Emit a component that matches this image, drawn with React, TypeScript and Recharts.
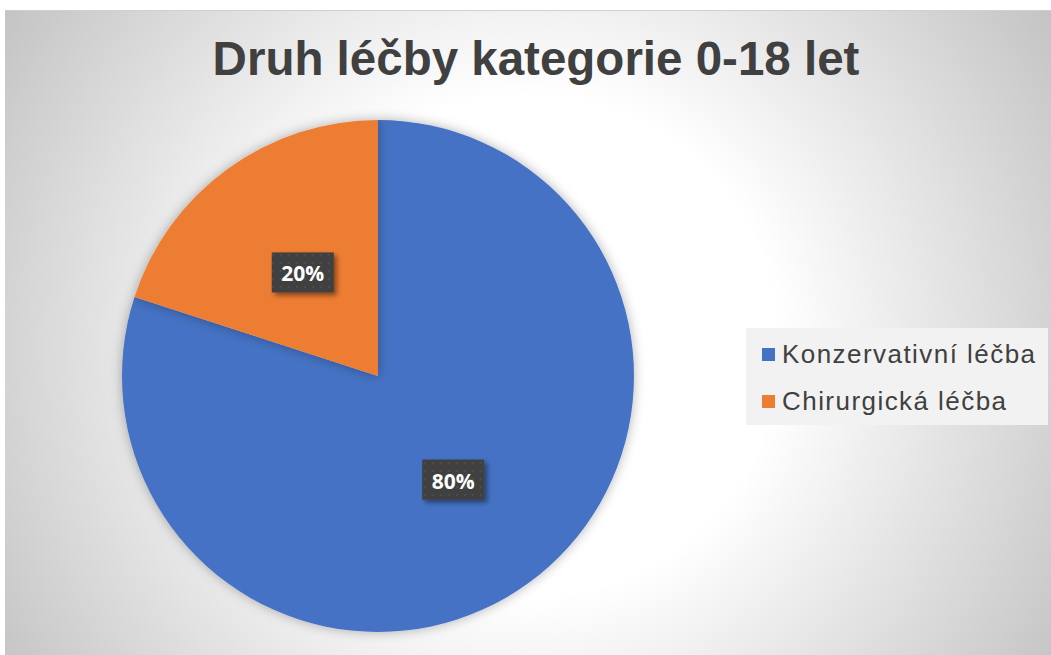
import { Cell, Legend, Pie, PieChart } from "recharts"

const categories = ["Konzervativní léčba", "Chirurgická léčba"]
const shares = [80, 20]
const colors = ["#4472c4", "#ed7d31"]

const data = categories.map((name, i) => ({ name, value: shares[i], color: colors[i] }))

const RADIAN = Math.PI / 180

const renderLabel = (props: any) => {
  const { cx, cy, midAngle, outerRadius, percent } = props
  const r = outerRadius * 0.5
  const x = cx + r * Math.cos(-midAngle * RADIAN)
  const y = cy + r * Math.sin(-midAngle * RADIAN)
  return (
    <g>
      <rect x={x - 31} y={y - 20} width={62} height={40} fill="url(#dots)" filter="url(#boxShadow)" />
      <text
        x={x}
        y={y + 1}
        textAnchor="middle"
        dominantBaseline="central"
        fill="#ffffff"
        fontFamily="'Open Sans', sans-serif"
        fontWeight={700}
        fontSize={21}
      >
        {`${Math.round(percent * 100)}%`}
      </text>
    </g>
  )
}

const LegendBox = () => (
  <div
    style={{
      background: "#f2f2f2",
      width: 302,
      height: 97,
      boxSizing: "border-box",
      paddingLeft: 16,
      paddingTop: 3,
      fontFamily: "'Liberation Sans', Arial, sans-serif",
      fontSize: 26,
      letterSpacing: 1.45,
      color: "#404040",
    }}
  >
    {data.map((d) => (
      <div key={d.name} style={{ display: "flex", alignItems: "center", height: 47 }}>
        <span style={{ width: 13, height: 13, background: d.color, marginRight: 7, display: "inline-block" }} />
        <span>{d.name}</span>
      </div>
    ))}
  </div>
)

export default function App() {
  return (
    <div
      style={{
        position: "absolute",
        left: 5,
        top: 10,
        width: 1046,
        height: 645,
        background: "radial-gradient(circle at 50% 52%, #ffffff 0px, #ffffff 250px, #c4c4c4 620px)",
        borderTop: "1px solid #d0d0d0",
        overflow: "hidden",
      }}
    >
      <svg width={0} height={0} style={{ position: "absolute" }}>
        <defs>
          <pattern id="dots" width={8} height={8} patternUnits="userSpaceOnUse">
            <rect width={8} height={8} fill="#404040" />
            <rect x={3} y={3} width={2} height={2} fill="#4c4c4c" />
          </pattern>
          <filter id="boxShadow" x="-30%" y="-30%" width="170%" height="180%">
            <feDropShadow dx={3} dy={3} stdDeviation={2.5} floodColor="#000" floodOpacity={0.45} />
          </filter>
          <filter id="pieShadow" x="-20%" y="-20%" width="140%" height="140%">
            <feDropShadow dx={0} dy={0} stdDeviation={6} floodColor="#000" floodOpacity={0.3} />
          </filter>
        </defs>
      </svg>
      <div
        style={{
          position: "absolute",
          left: 0,
          top: 20,
          width: 1062,
          textAlign: "center",
          fontFamily: "'Liberation Sans', Arial, sans-serif",
          fontWeight: 700,
          fontSize: 47.5,
          color: "#404040",
          lineHeight: "56px",
        }}
      >
        Druh léčby kategorie 0-18 let
      </div>
      <PieChart
        width={1046}
        height={645}
        margin={{ top: 0, right: 0, bottom: 0, left: 0 }}
        style={{ position: "absolute", left: 0, top: 0 }}
      >
        <Pie
          data={data}
          dataKey="value"
          nameKey="name"
          cx={373}
          cy={365}
          outerRadius={256}
          startAngle={90}
          endAngle={-270}
          stroke="none"
          label={renderLabel}
          labelLine={false}
          isAnimationActive={false}
          style={{ filter: "url(#pieShadow)" }}
        >
          {data.map((entry, index) => (
            <Cell key={`cell-${index}`} fill={entry.color} />
          ))}
        </Pie>
        <Legend
          content={<LegendBox />}
          wrapperStyle={{ position: "absolute", left: 741, top: 317, width: 302, height: 97 }}
        />
      </PieChart>
    </div>
  )
}
